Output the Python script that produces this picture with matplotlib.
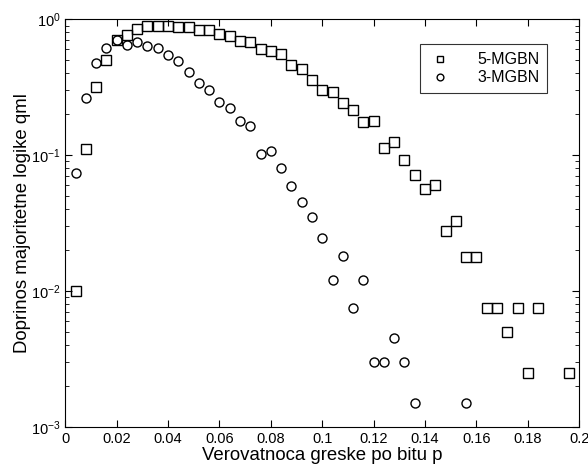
import numpy as np
import matplotlib
matplotlib.use("Agg")
import matplotlib.pyplot as plt
from matplotlib.ticker import LogLocator, NullFormatter

# data (bit error probability p vs. contribution)
p5 = [0.004, 0.008, 0.012, 0.016, 0.020, 0.024, 0.028, 0.032, 0.036, 0.040,
      0.044, 0.048, 0.052, 0.056, 0.060, 0.064, 0.068, 0.072, 0.076, 0.080,
      0.084, 0.088, 0.092, 0.096, 0.100, 0.104, 0.108, 0.112, 0.116, 0.120,
      0.124, 0.128, 0.132, 0.136, 0.140, 0.144, 0.148, 0.152, 0.156, 0.160,
      0.164, 0.168, 0.172, 0.176, 0.180, 0.184, 0.196]
mgbn5 = [0.0100, 0.110, 0.316, 0.50, 0.70, 0.77, 0.85, 0.89, 0.90, 0.90,
         0.88, 0.88, 0.83, 0.83, 0.78, 0.75, 0.69, 0.68, 0.60, 0.58,
         0.555, 0.46, 0.43, 0.355, 0.30, 0.29, 0.243, 0.216, 0.175, 0.179,
         0.113, 0.125, 0.092, 0.071, 0.056, 0.0605, 0.0276, 0.0329, 0.0177, 0.0177,
         0.0075, 0.0075, 0.0050, 0.0075, 0.0025, 0.0075, 0.0025]

p3 = [0.004, 0.008, 0.012, 0.016, 0.020, 0.024, 0.028, 0.032, 0.036, 0.040,
      0.044, 0.048, 0.052, 0.056, 0.060, 0.064, 0.068, 0.072, 0.076, 0.080,
      0.084, 0.088, 0.092, 0.096, 0.100, 0.104, 0.108, 0.112, 0.116, 0.120,
      0.124, 0.128, 0.132, 0.136, 0.156]
mgbn3 = [0.074, 0.263, 0.474, 0.615, 0.70, 0.65, 0.68, 0.64, 0.61, 0.543,
         0.493, 0.409, 0.341, 0.301, 0.247, 0.223, 0.179, 0.165, 0.102, 0.108,
         0.080, 0.059, 0.0454, 0.0348, 0.0244, 0.012, 0.018, 0.0075, 0.012, 0.0030,
         0.0030, 0.0045, 0.0030, 0.0015, 0.0015]

plt.rcParams['font.family'] = ['Liberation Sans', 'DejaVu Sans']
plt.rcParams['font.size'] = 10.5

fig = plt.figure(figsize=(5.88, 4.71), dpi=100)
ax = fig.add_axes([0.111, 0.094, 0.874, 0.865])

ax.semilogy(p5, mgbn5, 's', mfc='none', mec='black', ms=6.5, mew=1.0, label='5-MGBN')
ax.semilogy(p3, mgbn3, 'o', mfc='none', mec='black', ms=6.5, mew=1.0, label='3-MGBN')

ax.set_xlim(0, 0.2)
ax.set_ylim(1e-3, 1)
ax.set_xticks([0, 0.02, 0.04, 0.06, 0.08, 0.1, 0.12, 0.14, 0.16, 0.18, 0.2])
ax.set_xticklabels(['0', '0.02', '0.04', '0.06', '0.08', '0.1', '0.12', '0.14',
                    '0.16', '0.18', '0.2'])
ax.yaxis.set_minor_locator(LogLocator(base=10, subs=np.arange(2, 10), numticks=10))
ax.yaxis.set_minor_formatter(NullFormatter())
ax.tick_params(which='both', direction='in', top=True, right=True)
ax.tick_params(which='major', length=5)
ax.tick_params(which='minor', length=3)
for s in ax.spines.values():
    s.set_linewidth(0.8)

ax.set_xlabel('Verovatnoca greske po bitu p', fontsize=13.4, labelpad=1)
ax.set_ylabel('Doprinos majoritetne logike qml', fontsize=13.4, labelpad=0)

leg = ax.legend(loc='upper right', bbox_to_anchor=(0.938, 0.939), borderaxespad=0,
                markerscale=0.75, frameon=True, fancybox=False, edgecolor='black',
                handlelength=1.6, handletextpad=1.5, borderpad=0.5,
                labelspacing=0.2, fontsize=11.5)
leg.get_frame().set_linewidth(0.8)

fig.savefig('out.png', dpi=100)
